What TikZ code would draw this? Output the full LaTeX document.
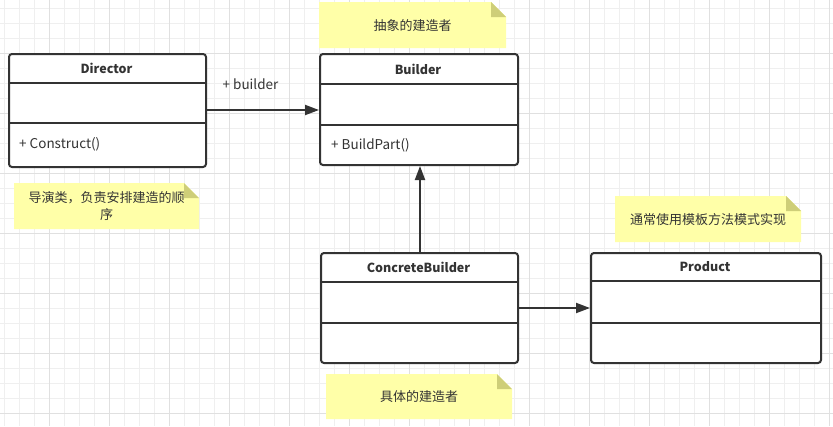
\documentclass[tikz,border=0pt]{standalone}
\usepackage{fontspec}
\setmainfont{Noto Sans CJK SC}
\usetikzlibrary{arrows.meta}
\definecolor{minorgrid}{HTML}{EFEFEF}
\definecolor{majorgrid}{HTML}{E0E0E0}
\definecolor{ink}{HTML}{333333}
\definecolor{notefill}{HTML}{FFFFA8}
\definecolor{foldfill}{HTML}{CECE78}
\tikzset{
  classbox/.style={draw=ink, line width=2pt, rounded corners=3pt, fill=white, inner sep=0pt, anchor=north west},
  divider/.style={draw=ink, line width=2pt},
  title/.style={font=\fontsize{12.5}{14}\selectfont\bfseries, text=ink, inner sep=0pt},
  member/.style={font=\fontsize{13.5}{15}\selectfont, text=ink, inner sep=0pt, anchor=west},
  notebox/.style={inner sep=0pt, anchor=north west, align=center, text=ink,
    font=\fontsize{13}{17}\selectfont,
    path picture={
      \fill[notefill] (path picture bounding box.north west)
        -- ([xshift=-15pt]path picture bounding box.north east)
        -- ([yshift=-15pt]path picture bounding box.north east)
        -- (path picture bounding box.south east)
        -- (path picture bounding box.south west) -- cycle;
      \fill[foldfill] ([xshift=-15pt]path picture bounding box.north east)
        -- ([xshift=-15pt,yshift=-15pt]path picture bounding box.north east)
        -- ([yshift=-15pt]path picture bounding box.north east) -- cycle;
    }},
  arrow/.style={draw=ink, line width=2pt, -{Triangle[length=14pt,width=10pt]}},
}
\begin{document}
\begin{tikzpicture}[x=1pt,y=-1pt]
\useasboundingbox (0,0) rectangle (833,426);
% grid
\foreach \x in {4,19,...,833} \draw[minorgrid, line width=0.8pt] (\x,0) -- (\x,426);
\foreach \y in {8,23,...,426} \draw[minorgrid, line width=0.8pt] (0,\y) -- (833,\y);
\foreach \x in {49,109,...,833} \draw[majorgrid, line width=0.8pt] (\x,0) -- (\x,426);
\foreach \y in {53,113,...,426} \draw[majorgrid, line width=0.8pt] (0,\y) -- (833,\y);

% notes
\node[notebox, minimum width=187pt, minimum height=46pt] (noteBuilder) at (319,2) {抽象的建造者};
\node[notebox, minimum width=185pt, minimum height=46pt, text width=175pt] (noteDirector) at (14,183) {导演类，负责安排建造的顺\\序};
\node[notebox, minimum width=186pt, minimum height=46pt] (noteProduct) at (615,196) {通常使用模板方法模式实现};
\node[notebox, minimum width=186pt, minimum height=45pt] (noteConcrete) at (326,374) {具体的建造者};

% Director
\node[classbox, minimum width=197pt, minimum height=113pt] (director) at (8,53) {};
\draw[divider] (8,83) -- (205,83);
\draw[divider] (8,123) -- (205,123);
\node[title] (directorT) at (106.5,68) {Director};
\node[member] (directorM) at (19,144) {+ Construct()};

% Builder
\node[classbox, minimum width=198pt, minimum height=111pt] (builder) at (319,53) {};
\draw[divider] (319,84) -- (517,84);
\draw[divider] (319,125) -- (517,125);
\node[title] (builderT) at (418,69) {Builder};
\node[member] (builderM) at (331,145) {+ BuildPart()};

% ConcreteBuilder
\node[classbox, minimum width=197pt, minimum height=110pt] (concrete) at (320,252) {};
\draw[divider] (320,282) -- (517,282);
\draw[divider] (320,323) -- (517,323);
\node[title] (concreteT) at (418.5,267) {ConcreteBuilder};

% Product
\node[classbox, minimum width=230pt, minimum height=110pt] (product) at (590,252) {};
\draw[divider] (590,281) -- (820,281);
\draw[divider] (590,323) -- (820,323);
\node[title] (productT) at (705,267) {Product};

% connectors
\draw[arrow] ([yshift=0.5pt]director.east) -- ([yshift=0.5pt]director.east -| builder.west);
\node[font=\fontsize{13.5}{15}\selectfont, text=ink, inner sep=0pt] (assocLabel) at (250.5,84) {+ builder};
\draw[arrow] ([xshift=0.5pt]concrete.north) -- ([xshift=0.5pt]concrete.north |- builder.south);
\draw[arrow] (concrete.east) -- (product.west);
\end{tikzpicture}
\end{document}
